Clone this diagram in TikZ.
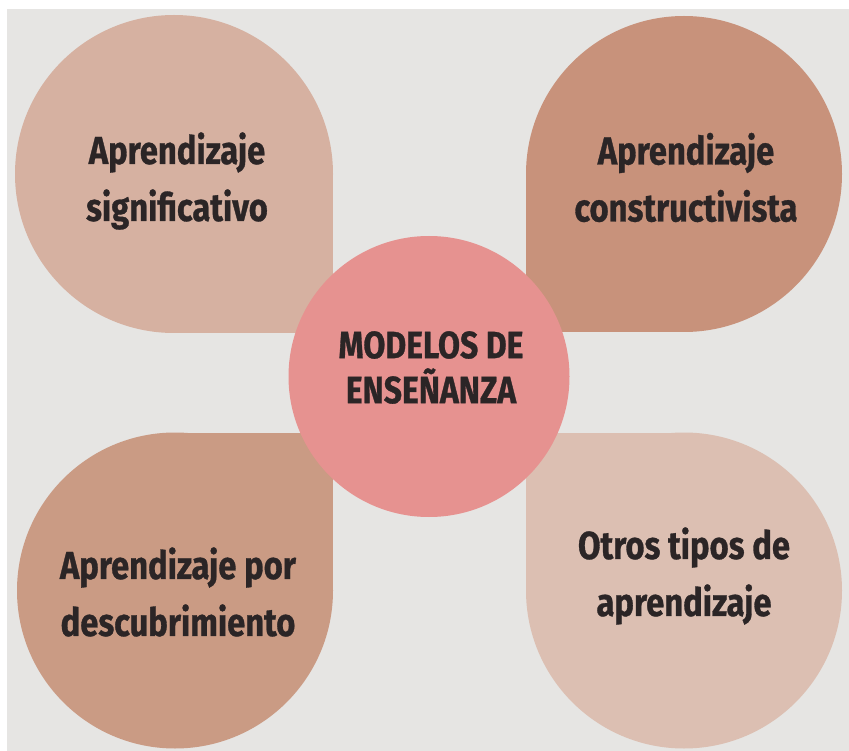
\documentclass[tikz,border=0pt]{standalone}
\usepackage{fontspec}
\newfontfamily\lbl[FakeStretch=0.84, BoldFeatures={FakeBold=0.8}]{Fira Sans}
\definecolor{bgc}{HTML}{E6E5E3}
\definecolor{ctl}{HTML}{D6B1A1}
\definecolor{ctr}{HTML}{C8927B}
\definecolor{cbl}{HTML}{CA9B84}
\definecolor{cbr}{HTML}{DCBFB2}
\definecolor{cmid}{HTML}{E69290}
\definecolor{ink}{HTML}{2B2526}
\tikzset{
  lbltext/.style={text=ink, align=center, inner sep=0pt,
    font=\lbl\bfseries\fontsize{39}{57}\selectfont},
  midtext/.style={text=ink, align=center, inner sep=0pt,
    font=\lbl\bfseries\fontsize{38}{45}\selectfont}
}
\begin{document}
\begin{tikzpicture}[x=1pt,y=-1pt]
\useasboundingbox (0,0) rectangle (849,751);
\fill[white] (0,0) rectangle (849,751);
\fill[bgc] (7,9) rectangle (849,751);
% top-left drop
\fill[ctl] (174,174) circle (159);
\fill[ctl] (174,174) rectangle (333,333);
% top-right drop
\fill[ctr] (684,174) circle (158);
\fill[ctr] (684,174) rectangle (526,332);
% bottom-left drop
\fill[cbl] (175,590.5) circle (158);
\fill[cbl] (175,590.5) rectangle (333,433);
% bottom-right drop
\fill[cbr] (684,590.5) circle (158);
\fill[cbr] (684,590.5) rectangle (526,433);
% centre circle
\node[circle, fill=cmid, minimum size=281pt, inner sep=0pt] (mid) at (429,376.5) {};
\node[midtext] (midlbl) at (431,367.5) {MODELOS DE\\ENSEÑANZA};
\node[lbltext] (tl) at (177,181) {Aprendizaje\\significativo};
\node[lbltext] (tr) at (686,177.5) {Aprendizaje\\constructivista};
\node[lbltext] (bl) at (178,592) {Aprendizaje por\\descubrimiento};
\node[lbltext] (br) at (684,576) {Otros tipos de\\aprendizaje};
\end{tikzpicture}
\end{document}
